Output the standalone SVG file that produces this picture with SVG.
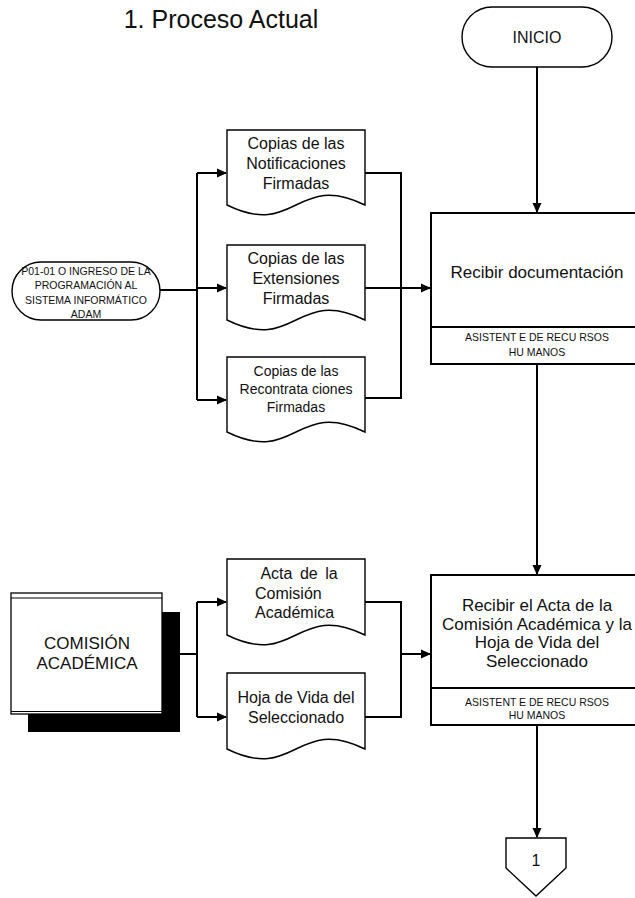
<svg xmlns="http://www.w3.org/2000/svg" width="635" height="898" viewBox="0 0 635 898">
<style>
text{font-family:"Liberation Sans",Arial,sans-serif;fill:#111;text-anchor:middle}
.doc{fill:#fff;stroke:#000;stroke-width:1.4}
.box{fill:#fff;stroke:#000;stroke-width:2}
.ln{fill:none;stroke:#000;stroke-width:2}
.t16{font-size:16px}
.t17{font-size:17px}
.t14{font-size:14px}
.sm{font-size:10.5px}
</style>
<defs>
<marker id="ah" markerWidth="10" markerHeight="10" refX="9" refY="5" orient="auto" markerUnits="userSpaceOnUse">
<path d="M0,0.5 L10,5 L0,9.5 Z" fill="#000"/>
</marker>
</defs>
<text x="221" y="28" style="font-size:25px">1. Proceso Actual</text>

<g id="connectors">
<path class="ln" d="M537,67 V212" marker-end="url(#ah)"/>
<path class="ln" d="M160,290 H197"/>
<path class="ln" d="M197,173 V400"/>
<path class="ln" d="M197,173 H226" marker-end="url(#ah)"/>
<path class="ln" d="M197,288 H226" marker-end="url(#ah)"/>
<path class="ln" d="M197,400 H226" marker-end="url(#ah)"/>
<path class="ln" d="M365,173 H401 V398 H365"/>
<path class="ln" d="M365,288 H430" marker-end="url(#ah)"/>
<path class="ln" d="M537,364 V574" marker-end="url(#ah)"/>
<path class="ln" d="M180,654 H197"/>
<path class="ln" d="M197,602 V717"/>
<path class="ln" d="M197,602 H226" marker-end="url(#ah)"/>
<path class="ln" d="M197,717 H226" marker-end="url(#ah)"/>
<path class="ln" d="M365,602 H401 V717 H365"/>
<path class="ln" d="M401,654 H430" marker-end="url(#ah)"/>
<path class="ln" d="M537,725 V837" marker-end="url(#ah)"/>
</g>

<g id="inicio">
<rect x="462" y="7" width="150" height="60" rx="30" fill="#fff" stroke="#000" stroke-width="1.4"/>
<text x="537" y="43" class="t16">INICIO</text>
</g>

<g id="p0101">
<rect x="12" y="262" width="148" height="58" rx="29" fill="#fff" stroke="#000" stroke-width="1.4"/>
<text x="86" y="275" class="sm">P01-01 O INGRESO DE LA</text>
<text x="86" y="289" class="sm">PROGRAMACIÓN AL</text>
<text x="86" y="304" class="sm">SISTEMA INFORMÁTICO</text>
<text x="86" y="318" class="sm">ADAM</text>
</g>

<g id="doc1">
<path class="doc" d="M227,130 H365 V205 C296,171 296,239 227,205 Z"/>
<text x="296" y="149" class="t16">Copias de las</text>
<text x="296" y="169" class="t16">Notificaciones</text>
<text x="296" y="189" class="t16">Firmadas</text>
</g>

<g id="doc2">
<path class="doc" d="M227,245 H365 V320 C296,286 296,354 227,320 Z"/>
<text x="296" y="264" class="t16">Copias de las</text>
<text x="296" y="284" class="t16">Extensiones</text>
<text x="296" y="304" class="t16">Firmadas</text>
</g>

<g id="doc3">
<path class="doc" d="M227,357 H365 V432 C296,398 296,466 227,432 Z"/>
<text x="296" y="376" class="t14">Copias de las</text>
<text x="296" y="394" class="t14">Recontrata ciones</text>
<text x="296" y="412" class="t14">Firmadas</text>
</g>

<g id="box1">
<rect class="box" x="431" y="213" width="212" height="151"/>
<line x1="431" y1="327" x2="643" y2="327" stroke="#000" stroke-width="2"/>
<text x="537" y="278" class="t17">Recibir documentación</text>
<text x="537" y="341" class="sm">ASISTENT E DE RECU RSOS</text>
<text x="537" y="356" class="sm">HU MANOS</text>
</g>

<g id="comision">
<rect x="28" y="612" width="152" height="120" fill="#000"/>
<rect x="11" y="593" width="151" height="121" fill="#fff" stroke="#000" stroke-width="1.3"/>
<line x1="11" y1="598" x2="162" y2="598" stroke="#000" stroke-width="1"/>
<line x1="11" y1="711.5" x2="162" y2="711.5" stroke="#000" stroke-width="1"/>
<text x="87" y="649" class="t17">COMISIÓN</text>
<text x="87" y="669" class="t17">ACADÉMICA</text>
</g>

<g id="docA">
<path class="doc" d="M227,559 H365 V635 C296,601 296,669 227,635 Z"/>
<text x="299" y="579" class="t16" style="word-spacing:3px">Acta de la</text>
<text x="255" y="599" class="t16" style="text-anchor:start">Comisión</text>
<text x="255" y="618" class="t16" style="text-anchor:start">Académica</text>
</g>

<g id="docB">
<path class="doc" d="M227,673 H365 V749 C296,715 296,783 227,749 Z"/>
<text x="296" y="703" class="t16">Hoja de Vida del</text>
<text x="296" y="723" class="t16">Seleccionado</text>
</g>

<g id="box2">
<rect class="box" x="431" y="575" width="212" height="150"/>
<line x1="431" y1="688" x2="643" y2="688" stroke="#000" stroke-width="2"/>
<text x="537" y="611" class="t17">Recibir el Acta de la</text>
<text x="537" y="629.5" class="t17">Comisión Académica y la</text>
<text x="537" y="648" class="t17">Hoja de Vida del</text>
<text x="537" y="666.5" class="t17">Seleccionado</text>
<text x="537" y="706" class="sm">ASISTENT E DE RECU RSOS</text>
<text x="537" y="719" class="sm">HU MANOS</text>
</g>

<g id="conector1">
<path d="M506,838 H566 V868 L536,896 L506,868 Z" fill="#fff" stroke="#000" stroke-width="1.4"/>
<text x="536" y="866" class="t16">1</text>
</g>
</svg>
